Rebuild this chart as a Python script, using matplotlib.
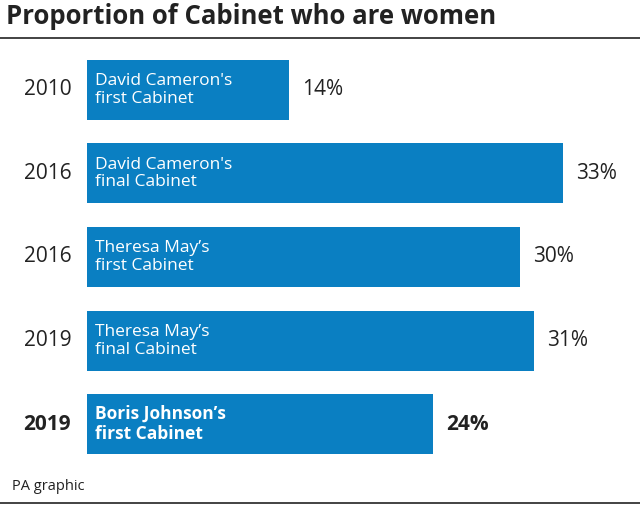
import matplotlib
matplotlib.use("Agg")
import matplotlib.pyplot as plt

years = ["2010", "2016", "2016", "2019", "2019"]
labels = ["David Cameron's\nfirst Cabinet", "David Cameron's\nfinal Cabinet",
          "Theresa May’s\nfirst Cabinet", "Theresa May’s\nfinal Cabinet",
          "Boris Johnson’s\nfirst Cabinet"]
values = [14, 33, 30, 31, 24]
bold = [False, False, False, False, True]

W, H = 640, 508
fig = plt.figure(figsize=(W/100, H/100), dpi=100)
plt.rcParams["font.family"] = "Open Sans"
blue = "#0a7fc2"

left = 87 / W
ax = fig.add_axes([left, 1 - 466/H, 1 - left, (466-48)/H])
ax.set_xlim(0, (W - 87) / 14.42)
ax.set_ylim(4.5, -0.5)
ax.axis("off")
ys = range(len(values))
ax.barh(ys, values, height=0.72, color=blue)
for y, yr, lab, v, b in zip(ys, years, labels, values, bold):
    w = "bold" if b else "normal"
    ax.text(-1.1, y, yr, ha="right", va="center", fontsize=15, weight=w, color="#222222")
    ax.text(0.55, y, lab, ha="left", va="center", fontsize=12.5, weight=w, color="white", linespacing=1.15)
    ax.text(v + 0.9, y, f"{v}%", ha="left", va="center", fontsize=15, weight=w, color="#222222")

fig.text(6/W, 1 - 17/H, "Proportion of Cabinet who are women", ha="left", va="center",
         fontsize=18.5, weight="bold", color="#222222")
fig.add_artist(plt.Line2D([0, 1], [1 - 38/H, 1 - 38/H], color="#222222", lw=1.2))
fig.add_artist(plt.Line2D([0, 1], [1 - 503/H, 1 - 503/H], color="#222222", lw=1.2))
fig.text(12/W, 1 - 487/H, "PA graphic", ha="left", va="center", fontsize=10.5, color="#222222")

fig.savefig("out.png", dpi=100)
